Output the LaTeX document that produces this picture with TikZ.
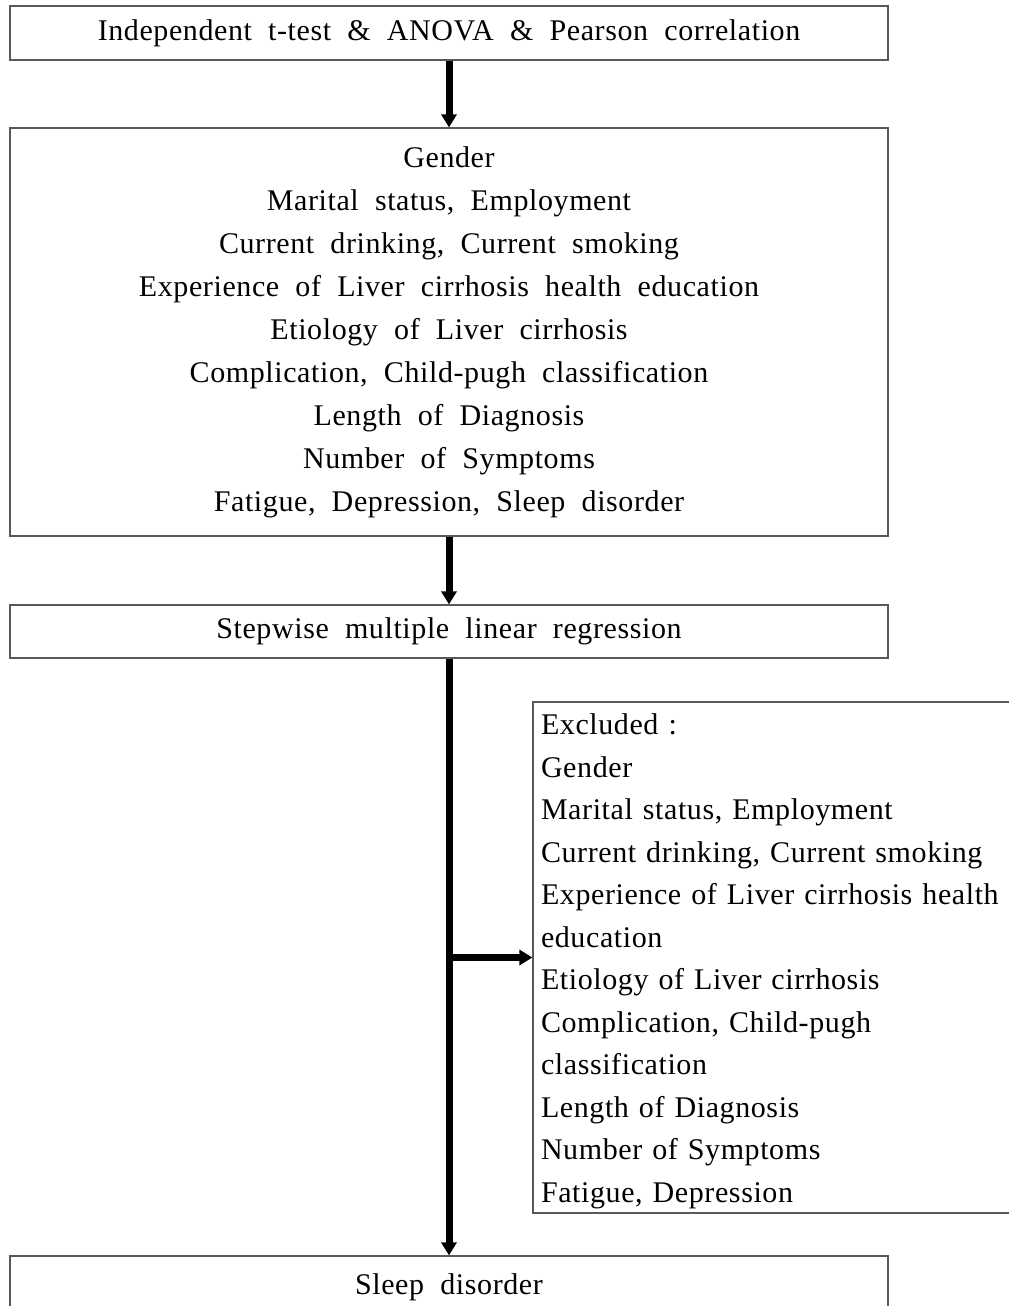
\documentclass[tikz,border=0pt]{standalone}
\usepackage{fontspec}
\setmainfont{Liberation Serif}[WordSpace=2.0,LetterSpace=2]
\usetikzlibrary{arrows.meta}

\begin{document}
\begin{tikzpicture}[x=0.5pt,y=-0.5pt,
    box/.style={rectangle,draw=black!65,line width=0.6pt,minimum width=439pt,inner sep=0pt,
        font=\fontsize{15}{21.5}\selectfont},
    arr/.style={line width=3.5pt,-{Triangle[width=7.5pt,length=6.5pt]}}]

\useasboundingbox (0,0) rectangle (1008,1306);

    \node (test) at (449,33) [box,minimum height=27pt] {Independent t-test \& ANOVA \& Pearson correlation};
    \node (vars) at (449,332) [box,minimum height=204pt,align=center]
        {Gender\\Marital status, Employment\\Current drinking, Current smoking\\
         Experience of Liver cirrhosis health education\\Etiology of Liver cirrhosis\\
         Complication, Child-pugh classification\\Length of Diagnosis\\
         Number of Symptoms\\Fatigue, Depression, Sleep disorder};
    \node (reg) at (449,631.5) [box,minimum height=26.5pt] {Stepwise multiple linear regression};
    \node (excl) at (776.5,957.5) [box,minimum width=0pt,minimum height=255.5pt,
        inner xsep=4pt,text width=235.5pt,align=left,
        font=\fontsize{15}{21.25}\selectfont]
        {\rule{0pt}{14pt}Excluded :\\Gender\\Marital status, Employment\\Current drinking, Current smoking\\
         Experience of Liver cirrhosis health\\education\\Etiology of Liver cirrhosis\\
         Complication, Child-pugh\\classification\\Length of Diagnosis\\
         Number of Symptoms\\Fatigue, Depression};
    \node (sleep) at (449,1287) [box,minimum height=31pt] {Sleep disorder};

    \coordinate (split) at (reg.south |- excl.west);

    \path[arr]
        (test) edge (vars)
        (vars) edge (reg)
        (reg) edge (sleep)
        (split) edge (excl);

\end{tikzpicture}
\end{document}
